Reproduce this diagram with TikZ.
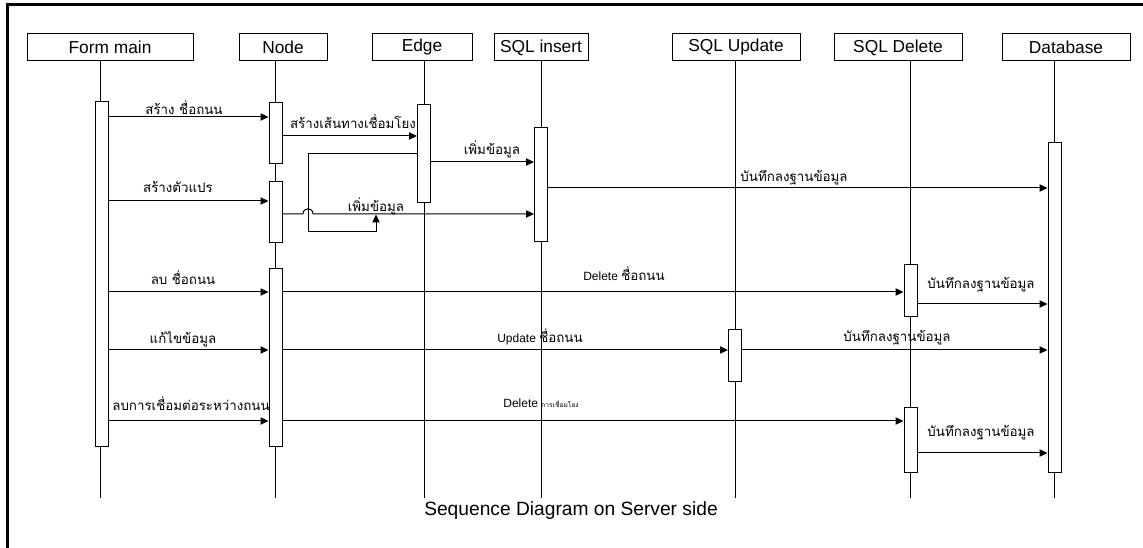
\documentclass[tikz,border=0pt]{standalone}
\usepackage{fontspec}
\setmainfont{Liberation Sans}
\newfontfamily\thaifont[Script=Thai]{Loma}
\usetikzlibrary{arrows.meta}
\begin{document}
\begin{tikzpicture}[x=0.75pt,y=-0.75pt,
  head/.style={draw, line width=0.75pt, minimum height=20.25pt, inner sep=0pt, font=\fontsize{13}{15}\selectfont},
  act/.style={draw, fill=white, line width=0.75pt, minimum width=9.75pt, inner sep=0pt},
  life/.style={line width=0.75pt},
  msg/.style={line width=0.75pt, -{Triangle[length=6pt,width=5.5pt]}},
  lbl/.style={inner sep=0pt, anchor=base, font=\thaifont\fontsize{10}{12}\selectfont},
  lat/.style={inner sep=0pt, anchor=base, font=\fontsize{9}{11}\selectfont},
  frame/.style={line width=2pt}]
\useasboundingbox (0,0) rectangle (1143,548);
% frame
\coordinate (ftr) at (1143,4.5);
\coordinate (ftl) at (7.5,4.5);
\coordinate (fbl) at (7.5,548);
\draw[frame] (ftr) -- (ftl) -- (fbl);
% headers
\node[head, minimum width=124.5pt] (hfm) at (110,47.5) {Form main};
\node[head, minimum width=66pt] (hn) at (283,47.5) {Node};
\node[head, minimum width=75pt] (he) at (422,47.5) {Edge};
\node[head, minimum width=70.5pt] (hs) at (541,47.5) {SQL insert};
\node[head, minimum width=96pt] (hu) at (736,47.5) {SQL Update};
\node[head, minimum width=96pt] (hd) at (898,47.5) {SQL Delete};
\node[head, minimum width=96pt] (hdb) at (1066,47.5) {Database};
% lifeline ends
\coordinate (efm) at (100,498);
\coordinate (en) at (275.5,498);
\coordinate (ee) at (424,498);
\coordinate (es) at (541,498);
\coordinate (eu) at (735.5,498);
\coordinate (ed) at (910.5,498);
\coordinate (edb) at (1054,498);
\draw[life] (efm |- hfm.south) -- (efm);
\draw[life] (en |- hn.south) -- (en);
\draw[life] (ee |- he.south) -- (ee);
\draw[life] (es |- hs.south) -- (es);
\draw[life] (eu |- hu.south) -- (eu);
\draw[life] (ed |- hd.south) -- (ed);
\draw[life] (edb |- hdb.south) -- (edb);
% activations
\node[act, minimum height=258.75pt] (fa) at (102,274.5) {};
\node[act, minimum height=45.75pt] (n1) at (275.5,133.5) {};
\node[act, minimum height=45.75pt] (n2) at (275.5,212.5) {};
\node[act, minimum height=133.5pt] (n3) at (275.5,358) {};
\node[act, minimum height=73.5pt] (e1) at (424,154) {};
\node[act, minimum height=85.5pt] (s1) at (541,185) {};
\node[act, minimum height=39pt] (u1) at (735,356) {};
\node[act, minimum height=39pt] (d1) at (910.5,291) {};
\node[act, minimum height=48.75pt] (d2) at (910.5,440.5) {};
\node[act, minimum height=247.5pt] (db) at (1054.5,308) {};
% messages
\draw[msg] (fa.east |- 0,117) -- (n1.west |- 0,117);
\draw[msg] (n1.east |- 0,136) -- (e1.west |- 0,136);
\draw[msg] (e1.east |- 0,162) -- (s1.west |- 0,162);
\coordinate (lp1) at (308,154);
\coordinate (lp2) at (308,232);
\coordinate (lp3) at (376,232);
\coordinate (lp4) at (376,214.5);
\draw[msg] (e1.west |- lp1) -- (lp1) -- (lp2) -- (lp3) -- (lp4);
\draw[msg] (fa.east |- 0,201) -- (n2.west |- 0,201);
\coordinate (j1) at (303,214);
\coordinate (j2) at (313,214);
\draw[msg] (n2.east |- j1) -- (j1) .. controls (303,207) and (313,207) .. (j2) -- (s1.west |- j2);
\draw[msg] (s1.east |- 0,188) -- (db.west |- 0,188);
\draw[msg] (fa.east |- 0,292) -- (n3.west |- 0,292);
\draw[msg] (n3.east |- 0,292) -- (d1.west |- 0,292);
\draw[msg] (d1.east |- 0,304) -- (db.west |- 0,304);
\draw[msg] (fa.east |- 0,350) -- (n3.west |- 0,350);
\draw[msg] (n3.east |- 0,350) -- (u1.west |- 0,350);
\draw[msg] (u1.east |- 0,350) -- (db.west |- 0,350);
\draw[msg] (fa.east |- 0,421) -- (n3.west |- 0,421);
\draw[msg] (n3.east |- 0,421) -- (d2.west |- 0,421);
\draw[msg] (d2.east |- 0,453) -- (db.west |- 0,453);
% labels
\node[lbl] (l1) at (184,115) {สร้าง ชื่อถนน};
\node[lbl] (l2) at (353,129) {สร้างเส้นทางเชื่อมโยง};
\node[lbl] (l3) at (492,155) {เพิ่มข้อมูล};
\node[lbl] (l5) at (178,193) {สร้างตัวแปร};
\node[lbl] (l6) at (376,212) {เพิ่มข้อมูล};
\node[lbl] (l7) at (794,182) {บันทึกลงฐานข้อมูล};
\node[lbl] (l8) at (183,285) {ลบ ชื่อถนน};
\node[lat] (l9) at (624,281) {Delete {\thaifont\fontsize{10}{12}\selectfont ชื่อถนน}};
\node[lbl] (l10) at (981,289) {บันทึกลงฐานข้อมูล};
\node[lbl] (l11) at (183,344) {แก้ไขข้อมูล};
\node[lat] (l12) at (540,343) {Update {\thaifont\fontsize{10}{12}\selectfont ชื่อถนน}};
\node[lbl] (l13) at (897,342) {บันทึกลงฐานข้อมูล};
\node[lbl] (l14) at (191,411) {ลบการเชื่อมต่อระหว่างถนน};
\node[lat] (l15) at (541,408) {Delete {\thaifont\fontsize{5}{6}\selectfont การเชื่อมโยง}};
\node[lbl] (l16) at (981,437) {บันทึกลงฐานข้อมูล};
% caption
\node[inner sep=0pt, font=\fontsize{14.4}{16}\selectfont] (cap) at (571,511) {Sequence Diagram on Server side};
\end{tikzpicture}
\end{document}
